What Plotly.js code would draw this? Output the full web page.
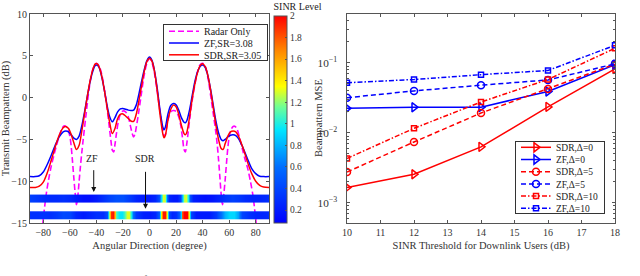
<!DOCTYPE html>
<html>
<head>
<meta charset="utf-8">
<script src="https://cdn.plot.ly/plotly-3.0.1.min.js"></script>
<style>html,body{margin:0;padding:0;background:#fff}#chart{width:640px;height:276px}</style>
</head>
<body>
<div id="chart"></div>
<script>
// ---------- Left chart: transmit beampattern ----------
const angleX = [-90,-86,-83,-80,-77,-74,-71,-68,-65,-63,-61,-59,-57,-55,-53,-51,-49,-47,-45,-43,-41,-39.5,-38,-36,-34,-32,-30,-28,-26,-24,-22,-20,-18,-16,-14,-12,-10,-8,-6,-4,-2,0,2,4,6,8,10,11,12,14,16,18,20,22,24,26,27,28,30,32,34,36,38,40,42,44,46,48,50,52,54,55.5,57,59,61,63,65,67,69,71,74,77,80,83,86,90];
const zfBeam = [-9.45,-9.45,-9.35,-8.9,-8.0,-6.9,-5.7,-4.7,-4.1,-4.0,-4.1,-4.45,-4.85,-5.0,-4.6,-3.4,-1.8,0.0,1.7,3.0,3.8,3.9,3.6,2.5,0.9,-0.9,-2.3,-2.9,-2.4,-1.7,-1.35,-1.3,-1.4,-1.5,-1.55,-1.5,-0.9,0.4,1.9,3.3,4.4,4.85,4.4,3.0,0.9,-1.6,-3.5,-3.85,-3.5,-1.9,-0.95,-0.7,-0.85,-1.5,-2.4,-2.95,-3.0,-2.8,-1.6,0.1,1.8,3.0,3.7,3.9,3.6,2.6,1.0,-0.9,-2.8,-4.2,-5.0,-5.15,-5.0,-4.7,-4.5,-4.45,-4.55,-4.9,-5.5,-6.2,-7.4,-8.5,-9.1,-9.4,-9.45,-9.45];
const sdrBeam = [-10.75,-10.75,-10.6,-10.1,-9.0,-7.5,-5.9,-4.5,-3.6,-3.45,-3.7,-4.4,-5.4,-6.2,-5.7,-4.0,-2.0,0.0,1.8,3.2,4.0,4.05,3.7,2.6,0.9,-1.1,-3.0,-4.3,-3.7,-2.5,-2.0,-1.95,-2.2,-2.5,-2.8,-2.85,-2.0,-0.4,1.4,3.1,4.3,4.7,4.3,2.9,0.6,-2.1,-4.3,-4.8,-4.5,-2.6,-1.4,-0.9,-1.1,-2.0,-3.3,-4.3,-4.45,-4.2,-2.5,-0.3,1.5,2.9,3.8,4.05,3.7,2.6,0.9,-1.2,-3.3,-5.0,-6.1,-6.2,-5.5,-4.6,-4.1,-4.0,-4.1,-4.6,-5.4,-6.3,-7.8,-9.1,-10.0,-10.5,-10.7,-10.75];

const radarX = [-90,-86,-83,-81,-79.5,-78,-76,-74,-72,-70,-68,-66,-64.5,-63,-61.5,-60,-59,-58,-57,-56,-55,-54,-53,-52,-51,-50,-48,-46,-44,-42,-40,-38,-36,-34,-32,-30.5,-29,-28,-27,-26,-25,-23.5,-22,-20,-18,-16,-14.5,-13,-12,-11,-10,-8,-6,-4,-2,0,2,4,6,8,10,11,12,13,14.5,16,18,20,22,23.5,25,26,27,28,29,30.5,32,34,36,38,40,42,44,46,48,50,51,52,53,54,55,56,57,58,59,60,61.5,63,64.5,66,68,70,72,74,76,78,79.5,81,83,86,90];
const radarBeam = [-28,-23,-19,-16,-13.8,-11.8,-9.8,-8.2,-6.9,-5.7,-4.6,-3.7,-3.4,-3.45,-3.8,-4.6,-5.8,-7.6,-9.6,-11.4,-12.8,-11.8,-10.0,-8.2,-6.6,-5.1,-2.3,0.4,2.5,3.7,4.1,3.8,2.8,1.0,-1.2,-3.2,-5.2,-6.3,-6.5,-5.6,-4.4,-2.9,-2.0,-1.6,-1.7,-2.3,-3.3,-4.3,-4.7,-4.4,-3.6,-1.6,0.6,2.7,4.1,4.7,4.1,2.7,0.5,-1.8,-3.9,-4.6,-4.4,-3.5,-2.3,-1.7,-1.55,-1.65,-2.3,-3.3,-5.0,-6.2,-6.5,-5.6,-4.3,-2.3,-0.5,1.4,3.0,3.9,4.1,3.7,2.4,0.3,-1.9,-4.2,-5.6,-7.4,-9.5,-11.6,-12.8,-11.5,-9.8,-7.8,-6.0,-4.7,-3.8,-3.45,-3.45,-3.8,-4.9,-6.2,-7.4,-8.5,-10.0,-11.8,-13.8,-16,-19,-23,-28];

// SINR level strips
const zfStripX = [-90,-85,-80,-75,-70,-65,-60,-55,-50,-45,-40,-35,-30,-25,-20,-15,-10,-5,0,4,7,8.5,10,11.5,13,15,18,21,23,24.5,26,27.5,29,30.5,33,37,42,47,52,57,62,67,72,77,82,86,90];
const zfStripLevel = [0.38,0.34,0.3,0.28,0.28,0.3,0.27,0.2,0.15,0.15,0.2,0.3,0.4,0.45,0.45,0.35,0.25,0.2,0.2,0.25,0.45,0.9,1.3,1.25,0.6,0.25,0.2,0.2,0.35,0.8,1.25,1.3,1.0,0.45,0.22,0.18,0.15,0.18,0.25,0.32,0.38,0.35,0.28,0.25,0.25,0.27,0.3];
const sdrStripX = [-90,-85,-80,-75,-70,-65,-60,-55,-50,-45,-40,-35,-32,-30.5,-29,-27.5,-26,-25,-23,-21,-19,-17,-15.5,-14,-12.5,-10,-5,0,4,7,8.5,10,11.5,13,14.5,17,20,22,23.5,24.5,26,28,29.5,31,35,40,45,50,54,57,60,64,67,70,75,80,85,90];
const sdrStripLevel = [0.3,0.3,0.32,0.3,0.35,0.42,0.4,0.25,0.2,0.25,0.3,0.3,0.45,1.2,1.9,1.95,1.5,1.1,0.95,0.95,1.05,1.3,1.3,1.0,0.6,0.35,0.22,0.2,0.25,0.5,1.4,1.95,1.95,1.3,0.4,0.25,0.3,0.5,0.9,1.8,2.0,2.0,1.3,0.4,0.2,0.2,0.2,0.35,0.6,0.8,0.9,0.9,0.75,0.4,0.3,0.25,0.25,0.28];

const angleTicks = [-80,-60,-40,-20,0,20,40,60,80];
const beamTicks = [-15,-10,-5,0,5,10];
const levelTicks = [0.2,0.4,0.6,0.8,1,1.2,1.4,1.6,1.8,2];

// ---------- Right chart: beampattern MSE ----------
const sinr = [10,12,14,16,18];
const sdrD0 = [0.00165,0.00255,0.0063,0.0235,0.082];
const zfD0 = [0.0224,0.0232,0.0233,0.039,0.094];
const sdrD5 = [0.00275,0.0074,0.0192,0.0425,0.096];
const zfD5 = [0.0318,0.0398,0.048,0.057,0.097];
const sdrD10 = [0.0043,0.0116,0.0276,0.058,0.162];
const zfD10 = [0.052,0.058,0.068,0.078,0.179];
const sinrTicks = [10,11,12,13,14,15,16,17,18];

const RED = '#ff0000', BLUE = '#0000ff', MAG = '#ff00ff';
const serif = 'Liberation Serif, Times New Roman, serif';
const W = 640, H = 276;
const px = v => v / W, py = v => (H - v) / H;

const traces = [
  {x: radarX, y: radarBeam, type: 'scatter', mode: 'lines', name: 'Radar Only',
   line: {color: MAG, width: 1.6, dash: '6px,3px', shape: 'spline', smoothing: 0.8},
   xaxis: 'x', yaxis: 'y', legend: 'legend'},
  {x: angleX, y: zfBeam, type: 'scatter', mode: 'lines', name: 'ZF,SR=3.08',
   line: {color: BLUE, width: 1.5, shape: 'spline', smoothing: 0.8},
   xaxis: 'x', yaxis: 'y', legend: 'legend'},
  {x: angleX, y: sdrBeam, type: 'scatter', mode: 'lines', name: 'SDR,SR=3.05',
   line: {color: RED, width: 1.5, shape: 'spline', smoothing: 0.8},
   xaxis: 'x', yaxis: 'y', legend: 'legend'},
  {x: zfStripX, y: [-12.6, -11.6], z: [zfStripLevel], type: 'heatmap', coloraxis: 'coloraxis',
   zsmooth: 'best', xaxis: 'x2', yaxis: 'y2', showlegend: false, hoverinfo: 'skip'},
  {x: sdrStripX, y: [-14.6, -13.6], z: [sdrStripLevel], type: 'heatmap', coloraxis: 'coloraxis',
   zsmooth: 'best', xaxis: 'x2', yaxis: 'y2', showlegend: false, hoverinfo: 'skip'},

  {x: sinr, y: sdrD0, type: 'scatter', mode: 'lines+markers', name: 'SDR,\u0394=0',
   line: {color: RED, width: 1.5}, marker: {symbol: 'triangle-right-open', size: 8, color: RED, line: {width: 1.5, color: RED}},
   xaxis: 'x3', yaxis: 'y3', legend: 'legend2'},
  {x: sinr, y: zfD0, type: 'scatter', mode: 'lines+markers', name: 'ZF,\u0394=0',
   line: {color: BLUE, width: 1.5}, marker: {symbol: 'triangle-right-open', size: 8, color: BLUE, line: {width: 1.5, color: BLUE}},
   xaxis: 'x3', yaxis: 'y3', legend: 'legend2'},
  {x: sinr, y: sdrD5, type: 'scatter', mode: 'lines+markers', name: 'SDR,\u0394=5',
   line: {color: RED, width: 1.5, dash: '5px,3px'}, marker: {symbol: 'circle-open', size: 7, color: RED, line: {width: 1.5, color: RED}},
   xaxis: 'x3', yaxis: 'y3', legend: 'legend2'},
  {x: sinr, y: zfD5, type: 'scatter', mode: 'lines+markers', name: 'ZF,\u0394=5',
   line: {color: BLUE, width: 1.5, dash: '5px,3px'}, marker: {symbol: 'circle-open', size: 7, color: BLUE, line: {width: 1.5, color: BLUE}},
   xaxis: 'x3', yaxis: 'y3', legend: 'legend2'},
  {x: sinr, y: sdrD10, type: 'scatter', mode: 'lines+markers', name: 'SDR,\u0394=10',
   line: {color: RED, width: 1.5, dash: '5px,2px,1.5px,2px'}, marker: {symbol: 'square-open', size: 5, color: RED, line: {width: 1.5, color: RED}},
   xaxis: 'x3', yaxis: 'y3', legend: 'legend2'},
  {x: sinr, y: zfD10, type: 'scatter', mode: 'lines+markers', name: 'ZF,\u0394=10',
   line: {color: BLUE, width: 1.5, dash: '5px,2px,1.5px,2px'}, marker: {symbol: 'square-open', size: 5, color: BLUE, line: {width: 1.5, color: BLUE}},
   xaxis: 'x3', yaxis: 'y3', legend: 'legend2'}
];

const axCommon = {
  showline: true, linecolor: '#555', linewidth: 1, mirror: 'ticks',
  ticks: 'inside', ticklen: 3, tickcolor: '#555', showgrid: false, zeroline: false,
  tickfont: {family: serif, size: 10, color: '#333'}
};

const layout = {
  width: W, height: H,
  margin: {l: 0, r: 0, t: 0, b: 0},
  paper_bgcolor: '#fff', plot_bgcolor: '#fff',
  font: {family: serif, size: 10, color: '#333'},
  xaxis: Object.assign({}, axCommon, {
    domain: [px(30), px(269)], range: [-90, 90], tickvals: angleTicks, anchor: 'y',
    title: {text: 'Angular Direction (degree)', font: {family: serif, size: 10.5, color: '#333'}, standoff: 4}
  }),
  yaxis: Object.assign({}, axCommon, {
    domain: [py(223), py(14)], range: [-15, 10], tickvals: beamTicks, anchor: 'x',
    title: {text: 'Transmit Beampattern (dB)', font: {family: serif, size: 10.5, color: '#333'}, standoff: 4}
  }),
  xaxis2: {overlaying: 'x', range: [-90, 90], visible: false, anchor: 'y2'},
  yaxis2: {overlaying: 'y', range: [-15, 10], visible: false, anchor: 'x2'},
  xaxis3: Object.assign({}, axCommon, {
    domain: [px(347), px(615)], range: [10, 18], tickvals: sinrTicks, anchor: 'y3',
    title: {text: 'SINR Threshold for Downlink Users (dB)', font: {family: serif, size: 10.5, color: '#333'}, standoff: 4}
  }),
  yaxis3: Object.assign({}, axCommon, {
    domain: [py(223), py(14)], type: 'log', range: [-3.29, -0.3], anchor: 'x3',
    dtick: 1, exponentformat: 'power', ticklabelstandoff: 7,
    tickfont: {family: serif, size: 9, color: '#333'},
    minor: {ticks: 'inside', ticklen: 2, tickcolor: '#555', showgrid: false}
  }),
  coloraxis: {
    cmin: 0.08, cmax: 2,
    colorscale: [[0, 'rgb(0,0,255)'], [0.27, 'rgb(0,110,255)'], [0.45, 'rgb(0,230,255)'],
                 [0.56, 'rgb(110,255,150)'], [0.66, 'rgb(255,255,0)'], [0.84, 'rgb(255,130,0)'], [1, 'rgb(255,0,0)']],
    colorbar: {
      x: px(274), xanchor: 'left', xpad: 0, ypad: 0,
      y: py(223), yanchor: 'bottom', len: 223 / H, lenmode: 'fraction',
      thickness: 13, thicknessmode: 'pixels',
      outlinewidth: 1, outlinecolor: '#555',
      tickvals: levelTicks, ticks: 'inside', ticklen: 2, tickcolor: '#555',
      tickfont: {family: serif, size: 9.5, color: '#333'},
      title: {text: 'SINR Level', side: 'top', font: {family: serif, size: 10, color: '#222'}}
    }
  },
  legend: {
    x: px(163), y: py(24), xanchor: 'left', yanchor: 'top',
    bgcolor: '#fff', bordercolor: '#333', borderwidth: 1,
    font: {family: serif, size: 10, color: '#222'}, tracegroupgap: 0, itemwidth: 30
  },
  legend2: {
    x: px(515), y: py(141), xanchor: 'left', yanchor: 'top',
    bgcolor: '#fff', bordercolor: '#333', borderwidth: 1,
    font: {family: serif, size: 9.5, color: '#222'}, tracegroupgap: 0, itemwidth: 30
  },
  annotations: [
    {x: px(318), y: py(118), xref: 'paper', yref: 'paper', text: 'Beampattern MSE', textangle: -90,
     showarrow: false, font: {family: serif, size: 10.5, color: '#333'}},
    {x: -43, y: -7.3, xref: 'x', yref: 'y', text: 'ZF', showarrow: false, font: {family: serif, size: 10, color: '#222'}},
    {x: -3.5, y: -7.3, xref: 'x', yref: 'y', text: 'SDR', showarrow: false, font: {family: serif, size: 10, color: '#222'}},
    {x: -42, y: -11.3, xref: 'x', yref: 'y', ax: -42, ay: -8.5, axref: 'x', ayref: 'y', text: '',
     showarrow: true, arrowhead: 2, arrowsize: 1, arrowwidth: 1, arrowcolor: '#111'},
    {x: -3, y: -13.3, xref: 'x', yref: 'y', ax: -3, ay: -8.7, axref: 'x', ayref: 'y', text: '',
     showarrow: true, arrowhead: 2, arrowsize: 1, arrowwidth: 1, arrowcolor: '#111'},
    {x: 0, y: py(271), xref: 'paper', yref: 'paper', xanchor: 'left', yanchor: 'top', showarrow: false,
     text: 'Fig. 10.&nbsp;&nbsp;&nbsp;Transmit beampattern for multi-user scenario with SINR level.',
     font: {family: serif, size: 11, color: '#444'}},
    {x: px(322), y: py(271), xref: 'paper', yref: 'paper', xanchor: 'left', yanchor: 'top', showarrow: false,
     text: 'Fig. 11.&nbsp;&nbsp;&nbsp;Beampattern MSE versus the SINR threshold. The',
     font: {family: serif, size: 11, color: '#444'}}
  ],
  showlegend: true
};

// compact legend rows (MATLAB-style spacing)
const legendRows = {legend: {step: 11.8, first: 7.2, height: 36}, legend2: {step: 12.2, first: 6.3, height: 72}};

Plotly.newPlot('chart', traces, layout, {staticPlot: true, displayModeBar: false}).then(gd => {
  Object.keys(legendRows).forEach(id => {
    const g = gd.querySelector('g.' + id);
    if (!g) return;
    const cfg = legendRows[id];
    g.querySelectorAll('g.traces').forEach((t, i) => {
      const m = /translate\(\s*([-\d.e]+)\s*[, ]\s*([-\d.e]+)\s*\)/.exec(t.getAttribute('transform') || '');
      const x = m ? m[1] : 1;
      t.setAttribute('transform', 'translate(' + x + ',' + (cfg.first + i * cfg.step) + ')');
    });
    const bg = g.querySelector('rect.bg');
    if (bg) bg.setAttribute('height', cfg.height);
  });
});
</script>
</body>
</html>
